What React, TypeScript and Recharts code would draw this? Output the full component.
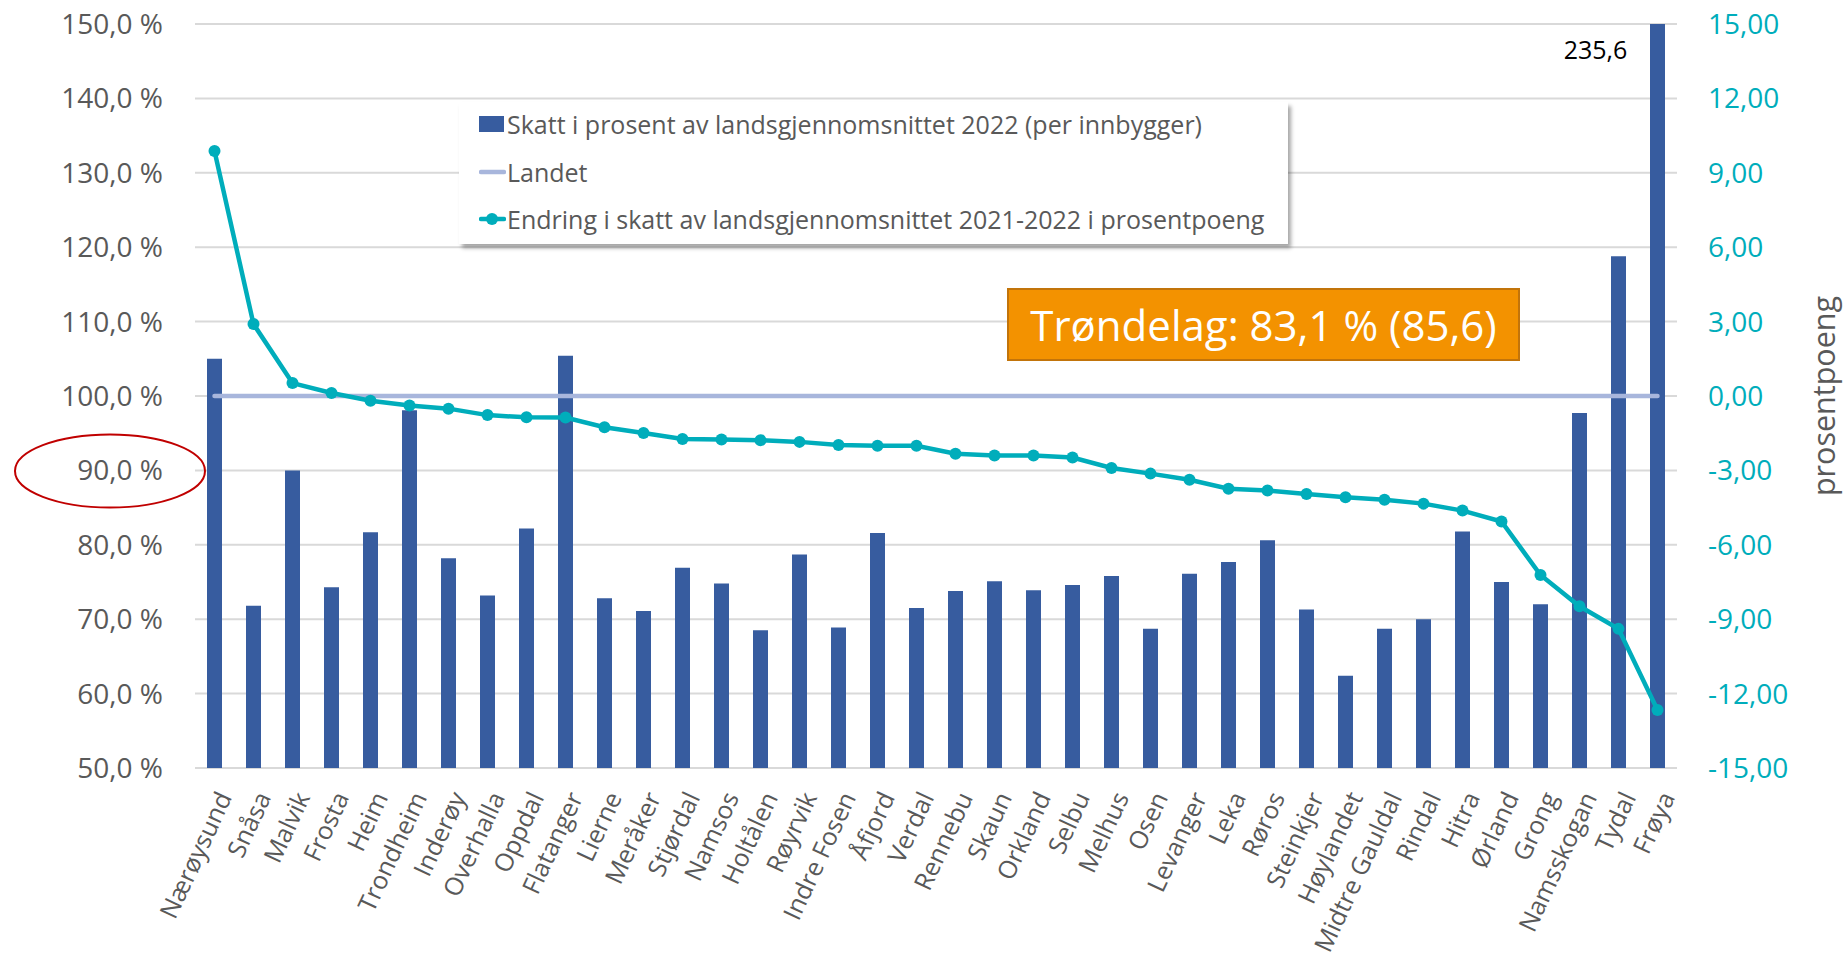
import React from 'react';
import { ComposedChart, Bar, Line, XAxis, YAxis, CartesianGrid, ReferenceDot } from 'recharts';

const categories = [
  'Nærøysund', 'Snåsa', 'Malvik', 'Frosta', 'Heim', 'Trondheim', 'Inderøy', 'Overhalla',
  'Oppdal', 'Flatanger', 'Lierne', 'Meråker', 'Stjørdal', 'Namsos', 'Holtålen', 'Røyrvik',
  'Indre Fosen', 'Åfjord', 'Verdal', 'Rennebu', 'Skaun', 'Orkland', 'Selbu', 'Melhus',
  'Osen', 'Levanger', 'Leka', 'Røros', 'Steinkjer', 'Høylandet', 'Midtre Gauldal', 'Rindal',
  'Hitra', 'Ørland', 'Grong', 'Namsskogan', 'Tydal', 'Frøya',
];

const skatt = [
  105.0, 71.8, 90.0, 74.3, 81.7, 98.1, 78.2, 73.2,
  82.2, 105.4, 72.8, 71.1, 76.9, 74.8, 68.5, 78.7,
  68.9, 81.6, 71.5, 73.8, 75.1, 73.9, 74.6, 75.8,
  68.7, 76.1, 77.7, 80.6, 71.3, 62.4, 68.7, 70.0,
  81.8, 75.0, 72.0, 97.7, 118.8, 235.6,
];

const endring = [
  9.88, 2.9, 0.52, 0.12, -0.19, -0.38, -0.51, -0.77,
  -0.86, -0.87, -1.26, -1.49, -1.73, -1.75, -1.78, -1.85,
  -1.98, -2.01, -2.01, -2.33, -2.4, -2.4, -2.48, -2.9,
  -3.13, -3.38, -3.74, -3.81, -3.95, -4.08, -4.18, -4.34,
  -4.62, -5.06, -7.22, -8.48, -9.39, -12.66,
];

const landetValue = 100;

const leftTicks = [50, 60, 70, 80, 90, 100, 110, 120, 130, 140, 150];
const rightTicks = [-15, -12, -9, -6, -3, 0, 3, 6, 9, 12, 15];

const legendLabels = [
  'Skatt i prosent av landsgjennomsnittet 2022 (per innbygger)',
  'Landet',
  'Endring i skatt av landsgjennomsnittet 2021-2022 i prosentpoeng',
];
const rightAxisTitle = 'prosentpoeng';
const trondelagText = 'Trøndelag: 83,1 % (85,6)';

const data = categories.map((name, i) => ({
  name,
  skatt: skatt[i],
  landet: landetValue,
  endring: endring[i],
}));

const BAR = '#375C9F';
const TEAL = '#00ADBB';
const LANDET = '#A8B6DC';
const GRID = '#D9D9D9';
const TXT = '#595959';
const FONT = "'Open Sans', sans-serif";

const fmtLeft = (v: number) => v.toFixed(1).replace('.', ',') + ' %';
const fmtRight = (v: number) => v.toFixed(2).replace('.', ',');

const XTick = (props: any) => {
  const { x, y, payload } = props;
  return (
    <g transform={`translate(${x + 9},${y + 17})`}>
      <text
        transform="rotate(-65)"
        textAnchor="end"
        dominantBaseline="central"
        fill={TXT}
        fontSize={25}
        fontFamily={FONT}
      >
        {payload.value}
      </text>
    </g>
  );
};

const RightTitle = (props: any) => {
  const vb = props.viewBox || {};
  const cx = vb.x + vb.width - 22;
  const cy = vb.y + vb.height / 2;
  return (
    <text
      x={cx}
      y={cy}
      transform={`rotate(-90 ${cx} ${cy})`}
      textAnchor="middle"
      dominantBaseline="central"
      fill={TXT}
      fontSize={30.5}
      fontFamily={FONT}
    >
      {rightAxisTitle}
    </text>
  );
};

const FroyaLabel = (props: any) => {
  const vb = props.viewBox || {};
  return (
    <text
      x={vb.x - 62}
      y={vb.y + 25}
      textAnchor="middle"
      dominantBaseline="central"
      fill="#000"
      fontSize={25}
      fontFamily={FONT}
    >
      {skatt[skatt.length - 1].toFixed(1).replace('.', ',')}
    </text>
  );
};

const LegendBox = () => {
  const rows = [22, 70, 117];
  return (
    <div
      style={{
        position: 'absolute',
        left: 459,
        top: 102,
        width: 829,
        height: 142,
        background: '#fff',
        boxShadow: '3px 4px 4px rgba(0,0,0,0.35)',
        fontFamily: FONT,
        fontSize: 25,
        color: TXT,
      }}
    >
      {legendLabels.map((label, i) => (
        <div
          key={label}
          style={{
            position: 'absolute',
            left: 20,
            top: rows[i] - 17,
            height: 34,
            display: 'flex',
            alignItems: 'center',
            whiteSpace: 'nowrap',
          }}
        >
          <svg width={27} height={34} style={{ flex: 'none' }}>
            {i === 0 && <rect x={0} y={9} width={25} height={16} fill={BAR} />}
            {i === 1 && <line x1={2} y1={17} x2={25} y2={17} stroke={LANDET} strokeWidth={4.5} strokeLinecap="round" />}
            {i === 2 && (
              <g>
                <line x1={2} y1={17} x2={25} y2={17} stroke={TEAL} strokeWidth={4.5} strokeLinecap="round" />
                <circle cx={13} cy={17} r={6} fill={TEAL} />
              </g>
            )}
          </svg>
          <span style={{ marginLeft: 1 }}>{label}</span>
        </div>
      ))}
    </div>
  );
};

export default function App() {
  return (
    <div style={{ position: 'relative', width: 1845, height: 959, fontFamily: FONT, background: '#fff' }}>
      <style>{`body{margin:0;}`}</style>
      <ComposedChart
        width={1845}
        height={959}
        data={data}
        margin={{ top: 24, right: 0, bottom: 0, left: 0 }}
      >
        <CartesianGrid vertical={false} stroke={GRID} strokeWidth={2} />
        <XAxis
          dataKey="name"
          interval={0}
          height={191}
          axisLine={false}
          tickLine={false}
          tick={<XTick />}
        />
        <YAxis
          domain={[50, 150]}
          ticks={leftTicks}
          allowDataOverflow
          width={195}
          axisLine={false}
          tickLine={false}
          tickMargin={26}
          tickFormatter={fmtLeft}
          tick={{ fill: TXT, fontSize: 28, fontFamily: FONT }}
        />
        <YAxis
          yAxisId="right"
          orientation="right"
          domain={[-15, 15]}
          ticks={rightTicks}
          allowDataOverflow
          width={168}
          axisLine={false}
          tickLine={false}
          tickMargin={25}
          tickFormatter={fmtRight}
          tick={{ fill: TEAL, fontSize: 28, fontFamily: FONT, textAnchor: 'start' }}
          label={<RightTitle />}
        />
        <Bar dataKey="skatt" fill={BAR} barSize={15} isAnimationActive={false} />
        <Line
          dataKey="landet"
          stroke={LANDET}
          strokeWidth={4.5}
          strokeLinecap="round"
          dot={false}
          activeDot={false}
          isAnimationActive={false}
        />
        <Line
          yAxisId="right"
          dataKey="endring"
          stroke={TEAL}
          strokeWidth={4.5}
          dot={{ r: 6, fill: TEAL, stroke: TEAL, strokeWidth: 0 }}
          activeDot={false}
          isAnimationActive={false}
        />
        <ReferenceDot
          x={categories[categories.length - 1]}
          y={150}
          r={0}
          fill="none"
          stroke="none"
          ifOverflow="visible"
          label={<FroyaLabel />}
        />
      </ComposedChart>
      <LegendBox />
      <div
        style={{
          position: 'absolute',
          left: 1007,
          top: 288,
          width: 513,
          height: 73,
          boxSizing: 'border-box',
          background: '#F39200',
          border: '2px solid #C2740A',
          color: '#fff',
          fontSize: 42,
          fontFamily: FONT,
          display: 'flex',
          alignItems: 'center',
          justifyContent: 'center',
          whiteSpace: 'nowrap',
        }}
      >
        {trondelagText}
      </div>
      <svg width={1845} height={959} style={{ position: 'absolute', left: 0, top: 0, pointerEvents: 'none' }}>
        <ellipse cx={110} cy={471} rx={95} ry={36.5} fill="none" stroke="#C00000" strokeWidth={2} />
      </svg>
    </div>
  );
}
